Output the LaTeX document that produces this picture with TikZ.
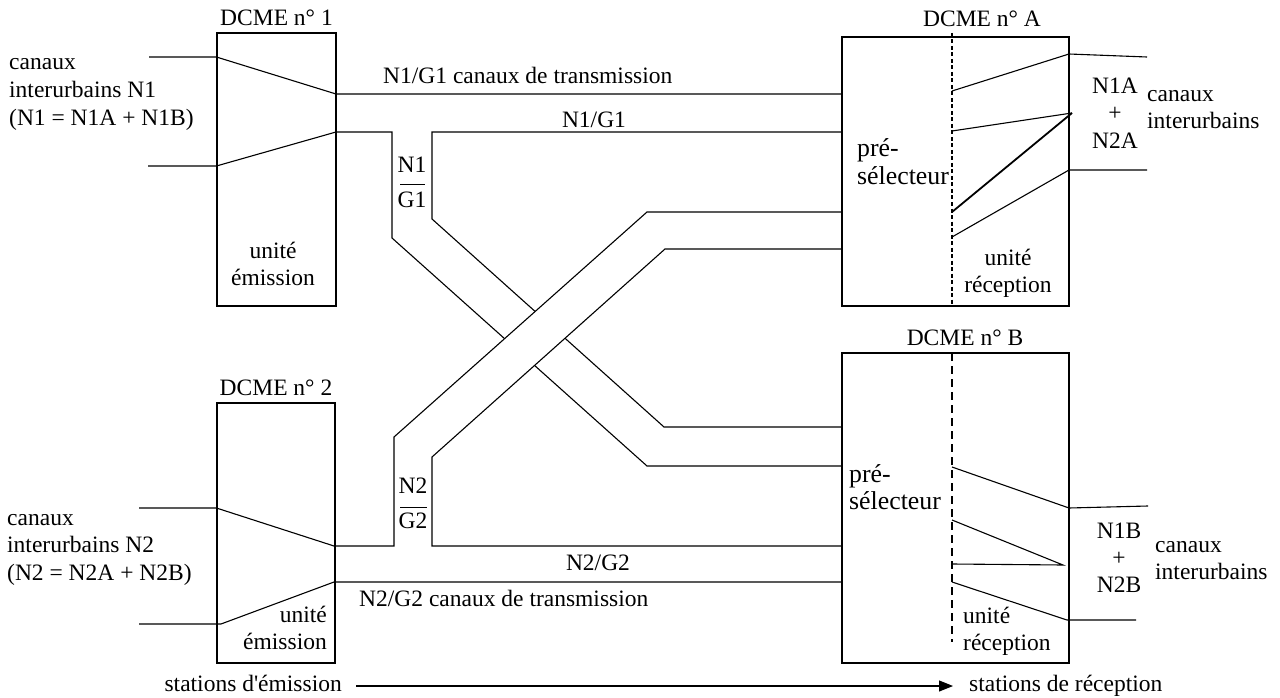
\documentclass[tikz,border=0pt]{standalone}
\usepackage{fontspec}
\setmainfont{Liberation Serif}
\usetikzlibrary{arrows.meta}
\begin{document}
\begin{tikzpicture}[x=1pt,y=-1pt,
  every node/.style={inner sep=0pt, font=\fontsize{23.5}{28}\selectfont},
  box/.style={draw, line width=1.2pt},
  ln/.style={line width=1.1pt},
  big/.style={font=\fontsize{25.8}{28}\selectfont},
  fineDash/.style={line width=1.8pt, dash pattern=on 4pt off 2.5pt},
  longDash/.style={line width=1.8pt, dash pattern=on 8pt off 5pt}]
\useasboundingbox (0,0) rectangle (1280,698);

% ---- boxes
\node[box, minimum width=119pt, minimum height=273pt] (d1) at (276.5,169.5) {};
\node[box, minimum width=118pt, minimum height=260pt] (d2) at (276,533) {};
\node[box, minimum width=227pt, minimum height=269pt] (dA) at (955.5,171.5) {};
\node[box, minimum width=227pt, minimum height=310pt] (dB) at (955.5,508) {};

% ---- box titles
\node[anchor=base] (t1) at (276.5,26) {DCME n° 1};
\node[anchor=base] (t2) at (276,395) {DCME n° 2};
\node[anchor=base] (tA) at (982,27) {DCME n° A};
\node[anchor=base] (tB) at (965,345) {DCME n° B};

% ---- dashed separators
\coordinate (sAt) at (952,33);
\coordinate (sAb) at (952,306);
\coordinate (sBt) at (952,353);
\coordinate (sBb) at (952,642);
\draw[fineDash] (sAt) -- (sAb);
\draw[longDash] (sBt) -- (sBb);

% ---- DCME 1 inputs and outputs
\coordinate (i1a) at (149,57);
\coordinate (o1a) at (336,94);
\coordinate (i1b) at (148,166);
\coordinate (o1b) at (336,132);
\draw[ln] (i1a) -- (d1.west |- i1a) -- (o1a) -- (dA.west |- o1a);

% N1 band (drawn first, passes under N2 band)
\coordinate (n1a) at (392,132);
\coordinate (n1b) at (392,238);
\coordinate (n1c) at (647,466);
\coordinate (n1d) at (432,132);
\coordinate (n1e) at (432,219);
\coordinate (n1f) at (664,427);
\draw[ln] (i1b) -- (d1.west |- i1b) -- (o1b) -- (n1a) -- (n1b) -- (n1c) -- (dB.west |- n1c);
\draw[ln] (dA.west |- n1d) -- (n1d) -- (n1e) -- (n1f) -- (dB.west |- n1f);

% ---- DCME 2 inputs and outputs
\coordinate (i2a) at (139,508);
\coordinate (o2a) at (334,546);
\coordinate (i2b) at (139,624);
\coordinate (k2b) at (221,624);
\coordinate (o2b) at (334,582);
\draw[ln] (i2b) -- (k2b) -- (o2b) -- (dB.west |- o2b);

% N2 band (over N1 band)
\coordinate (n2a) at (394,546);
\coordinate (n2b) at (394,437);
\coordinate (n2c) at (647,212);
\coordinate (n2d) at (432,546);
\coordinate (n2e) at (432,457);
\coordinate (n2f) at (665,249);
\fill[white] (n2b) -- (n2c) -- (n2f) -- (n2e) -- cycle;
\draw[ln] (i2a) -- (d2.west |- i2a) -- (o2a) -- (n2a) -- (n2b) -- (n2c) -- (dA.west |- n2c);
\draw[ln] (dB.west |- n2d) -- (n2d) -- (n2e) -- (n2f) -- (dA.west |- n2f);

% ---- DCME A internals
\coordinate (a1) at (952,91);  \coordinate (a1r) at (1069,54);  \coordinate (a1o) at (1147,57);
\coordinate (a2) at (952,131); \coordinate (a2r) at (1072,113);
\coordinate (a3) at (952,212);
\coordinate (a4) at (952,237); \coordinate (a4r) at (1069,170); \coordinate (a4o) at (1147,170);
\draw[ln] (a1) -- (a1r) -- (a1o);
\draw[ln] (a2) -- (a2r);
\draw[line width=1.8pt] (a3) -- (a2r);
\draw[ln] (a4) -- (a4r) -- (a4o);

% ---- DCME B internals
\coordinate (b1) at (952,467); \coordinate (b1r) at (1069,508); \coordinate (b1o) at (1148,506);
\coordinate (b2) at (952,520); \coordinate (b2r) at (1063,565);
\coordinate (b3) at (952,564);
\coordinate (b4) at (952,582); \coordinate (b4r) at (1067,620); \coordinate (b4o) at (1136,620);
\draw[ln] (b1) -- (b1r) -- (b1o);
\draw[ln] (b2) -- (b2r) -- (b3);
\draw[ln] (b4) -- (b4r) -- (b4o);

% ---- left texts
\node[anchor=base west] (l1a) at (9,70) {canaux};
\node[anchor=base west] (l1b) at (9,98) {interurbains N1};
\node[anchor=base west] (l1c) at (9,126) {(N1 = N1A + N1B)};
\node[anchor=base west] (l2a) at (7,525) {canaux};
\node[anchor=base west] (l2b) at (7,552) {interurbains N2};
\node[anchor=base west] (l2c) at (7,580) {(N2 = N2A + N2B)};

% ---- emission units
\node[anchor=base] (u1a) at (273,258) {unité};
\node[anchor=base] (u1b) at (273,285) {émission};
\node[anchor=base east] (u2a) at (327,622) {unité};
\node[anchor=base east] (u2b) at (327,649) {émission};

% ---- channel labels
\node[anchor=base west] (c1) at (383,84) {N1/G1 canaux de transmission};
\node[anchor=base] (g1) at (594,128) {N1/G1};
\node[anchor=base] (g2) at (598,570) {N2/G2};
\node[anchor=base west] (c2) at (359,606) {N2/G2 canaux de transmission};

% ---- fractions in bands
\node[anchor=base] (f1n) at (412,172) {N1};
\node[anchor=base] (f1d) at (412,207) {G1};
\coordinate (f1l) at (400,184); \coordinate (f1r) at (425,184);
\draw[line width=1pt] (f1l) -- (f1r);
\node[anchor=base] (f2n) at (413,493) {N2};
\node[anchor=base] (f2d) at (413,528) {G2};
\coordinate (f2l) at (400,507); \coordinate (f2r) at (427,507);
\draw[line width=1pt] (f2l) -- (f2r);

% ---- DCME A texts
\node[big, anchor=base west] (pA1) at (857,157) {pré-};
\node[big, anchor=base west] (pA2) at (857,184) {sélecteur};
\node[anchor=base] (rA1) at (1008,265) {unité};
\node[anchor=base] (rA2) at (1008,292) {réception};
\node[anchor=base] (nA1) at (1115,94) {N1A};
\node[anchor=base] (nA2) at (1115,121) {+};
\node[anchor=base] (nA3) at (1115,149) {N2A};
\node[anchor=base west] (cA1) at (1147,102) {canaux};
\node[anchor=base west] (cA2) at (1147,129) {interurbains};

% ---- DCME B texts
\node[big, anchor=base west] (pB1) at (849,482) {pré-};
\node[big, anchor=base west] (pB2) at (849,509) {sélecteur};
\node[anchor=base west] (rB1) at (963,623) {unité};
\node[anchor=base west] (rB2) at (963,650) {réception};
\node[anchor=base] (nB1) at (1119,538) {N1B};
\node[anchor=base] (nB2) at (1119,565) {+};
\node[anchor=base] (nB3) at (1119,592) {N2B};
\node[anchor=base west] (cB1) at (1155,552) {canaux};
\node[anchor=base west] (cB2) at (1155,579) {interurbains};

% ---- bottom direction arrow
\node[anchor=base east] (se) at (342,691) {stations d\textquotesingle émission};
\node[anchor=base west] (sr) at (969,691) {stations de réception};
\coordinate (ar1) at (356,686);
\coordinate (ar2) at (953,686);
\draw[line width=1.1pt, -{Triangle[length=14pt,width=11pt]}] (ar1) -- (ar2);
\end{tikzpicture}
\end{document}
